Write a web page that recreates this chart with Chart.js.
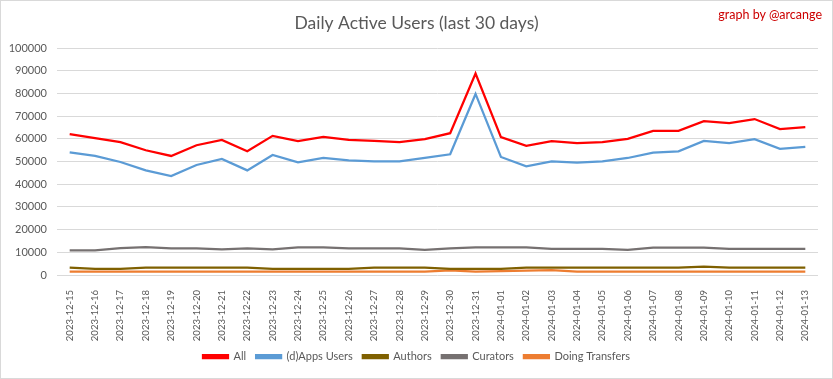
<!DOCTYPE html>
<html>
<head>
<meta charset="utf-8">
<script src="https://cdn.jsdelivr.net/npm/chart.js@4.4.1/dist/chart.umd.min.js"></script>
<style>
  html, body { margin: 0; padding: 0; background: #fff; }
  #wrap { position: relative; width: 833px; height: 379px; box-sizing: border-box; border: 1px solid #d9d9d9; }
  #c { display: block; }
  #credit { position: absolute; right: 10px; top: 6px; font-family: Lato, "Open Sans", sans-serif; font-size: 12.5px; color: #cc0000; }
</style>
</head>
<body>
<div id="wrap">
  <canvas id="c" width="831" height="377"></canvas>
  <div id="credit">graph by @arcange</div>
</div>
<script>
const categories = ["2023-12-15","2023-12-16","2023-12-17","2023-12-18","2023-12-19","2023-12-20","2023-12-21","2023-12-22","2023-12-23","2023-12-24","2023-12-25","2023-12-26","2023-12-27","2023-12-28","2023-12-29","2023-12-30","2023-12-31","2024-01-01","2024-01-02","2024-01-03","2024-01-04","2024-01-05","2024-01-06","2024-01-07","2024-01-08","2024-01-09","2024-01-10","2024-01-11","2024-01-12","2024-01-13"];
const allUsers = [62040, 60270, 58500, 54950, 52440, 57160, 59530, 54500, 61300, 58940, 60860, 59530, 59080, 58490, 59820, 62480, 88770, 60710, 56870, 58940, 58050, 58490, 59970, 63520, 63520, 67800, 66910, 68690, 64250, 65140];
const appsUsers = [54060, 52440, 49780, 46090, 43570, 48450, 51110, 46090, 52880, 49630, 51550, 50520, 50070, 50070, 51550, 53180, 79760, 51990, 47860, 50070, 49480, 50070, 51550, 53910, 54500, 59080, 58050, 59820, 55540, 56430];
const authors = [3300, 2700, 2700, 3200, 3200, 3200, 3200, 3200, 2700, 2700, 2700, 2700, 3200, 3200, 3200, 2700, 2700, 2700, 3200, 3200, 3200, 3200, 3200, 3200, 3200, 3700, 3200, 3200, 3200, 3200];
const curators = [10800, 10800, 11800, 12250, 11700, 11700, 11250, 11700, 11250, 12150, 12150, 11700, 11700, 11700, 11100, 11700, 12150, 12150, 12150, 11550, 11550, 11550, 11100, 12100, 12100, 12100, 11550, 11550, 11550, 11550];
const transfers = [1500, 1500, 1500, 1500, 1500, 1500, 1500, 1500, 1500, 1500, 1500, 1500, 1500, 1500, 1500, 2000, 1500, 1700, 1900, 2100, 1500, 1500, 1500, 1500, 1500, 1500, 1500, 1500, 1500, 1500];
const yTicks = [0, 10000, 20000, 30000, 40000, 50000, 60000, 70000, 80000, 90000, 100000];

const FONT = 'Lato, "Open Sans", sans-serif';
const TXT = '#595959';

function ds(label, data, color) {
  return { label, data, borderColor: color, backgroundColor: color, borderWidth: 2.25,
           pointRadius: 0, pointHoverRadius: 0, tension: 0, fill: false, yAxisID: 'y' };
}

new Chart(document.getElementById('c'), {
  type: 'line',
  data: {
    labels: categories,
    datasets: [
      ds('All', allUsers, '#ff0000'),
      ds('(d)Apps Users', appsUsers, '#5b9bd5'),
      ds('Authors', authors, '#7f6000'),
      ds('Curators', curators, '#767171'),
      ds('Doing Transfers', transfers, '#ed7d31')
    ]
  },
  options: {
    responsive: false,
    animation: false,
    layout: { padding: { left: 0, right: 0, top: 8, bottom: 6 } },
    plugins: {
      title: { display: true, text: 'Daily Active Users (last 30 days)', color: TXT,
               font: { family: FONT, size: 17.5, weight: 'normal' }, padding: { top: 4, bottom: 14 } },
      legend: { position: 'bottom', labels: { color: TXT, font: { family: FONT, size: 11 },
                boxWidth: 25, boxHeight: 3, padding: 10 } },
      tooltip: { enabled: false }
    },
    scales: {
      x: {
        offset: true,
        grid: { display: false },
        border: { display: false },
        ticks: { color: TXT, font: { family: FONT, size: 9.5 }, minRotation: 90, maxRotation: 90,
                 autoSkip: false, padding: 7 },
        afterFit: (s) => { s.height = 66; }
      },
      y: {
        min: 0, max: 100000,
        afterBuildTicks: (s) => { s.ticks = yTicks.map(v => ({ value: v })); },
        grid: { color: '#d9d9d9', drawTicks: false, lineWidth: 1 },
        border: { display: false },
        ticks: { color: TXT, font: { family: FONT, size: 11 }, padding: 10,
                 callback: (v) => String(v) },
        afterFit: (s) => { s.width = 56; }
      },
      yr: {
        position: 'right',
        display: true,
        grid: { display: false },
        border: { display: false },
        ticks: { display: false },
        afterFit: (s) => { s.width = 14; }
      }
    }
  }
});
</script>
</body>
</html>
